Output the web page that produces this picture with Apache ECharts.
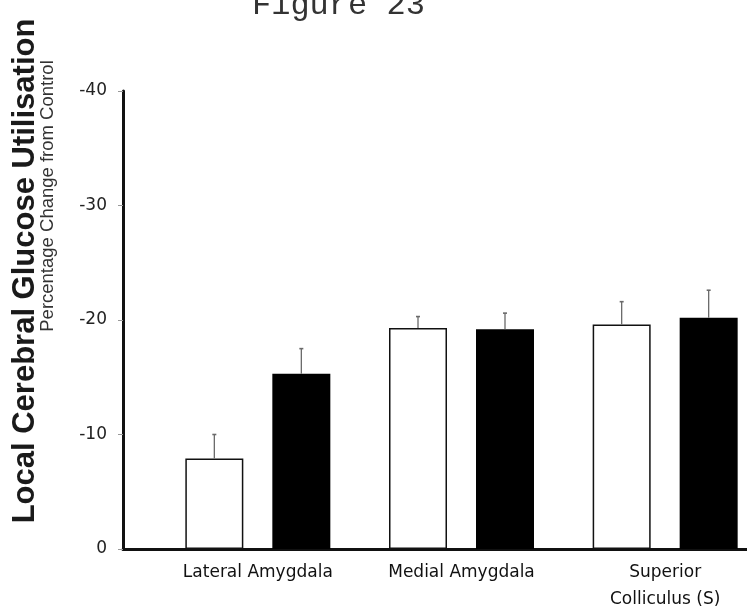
<!DOCTYPE html>
<html><head><meta charset="utf-8">
<script src="https://cdn.jsdelivr.net/npm/echarts@6/dist/echarts.min.js"></script>
<style>html,body{margin:0;padding:0;background:#fff}#c{width:747px;height:612px}</style>
</head><body><div id="c"></div>
<script>
const categories = ['Lateral Amygdala', 'Medial Amygdala', 'Superior\nColliculus (S)'];
const whiteValues = [-7.9, -19.3, -19.6];
const whiteErrors = [2.1, 1.0, 2.0];
const blackValues = [-15.3, -19.2, -20.2];
const blackErrors = [2.2, 1.4, 2.4];
const yMin = -40, yMax = 0, yStep = 10;

const chart = echarts.init(document.getElementById('c'), null, {renderer: 'canvas'});

function errData(vals, errs) {
  return vals.map((v, i) => [i, v, v - errs[i]]);
}
function makeErr(offset) {
  return function (params, api) {
    const base = api.coord([api.value(0), api.value(1)]);
    const top = api.coord([api.value(0), api.value(2)]);
    const x = base[0] + offset;
    return {
      type: 'group',
      children: [
        {type: 'line', shape: {x1: x, y1: base[1], x2: x, y2: top[1]}, style: {stroke: '#6a6a6a', lineWidth: 1.3}},
        {type: 'line', shape: {x1: x - 2, y1: top[1], x2: x + 2, y2: top[1]}, style: {stroke: '#6a6a6a', lineWidth: 1.6}}
      ]
    };
  };
}

const option = {
  backgroundColor: '#ffffff',
  animation: false,
  grid: [
    {left: 123, right: 0, top: 91, bottom: 63, outerBoundsMode: 'none', containLabel: false},
    {left: 156, width: 611, top: 91, bottom: 63, outerBoundsMode: 'none', containLabel: false}
  ],
  xAxis: [
    {gridIndex: 0, type: 'category', data: categories,
     axisLine: {show: true, onZero: false, lineStyle: {color: '#111', width: 3}},
     axisTick: {show: false}, axisLabel: {show: false}, splitLine: {show: false}},
    {gridIndex: 1, type: 'category', data: categories,
     axisLine: {show: false}, axisTick: {show: false}, splitLine: {show: false},
     axisLabel: {show: true, color: '#111', fontSize: 17, fontFamily: 'DejaVu Sans', margin: 10, lineHeight: 27, interval: 0}}
  ],
  yAxis: [
    {gridIndex: 0, type: 'value', min: yMin, max: yMax, interval: yStep, inverse: true,
     axisLine: {show: true, lineStyle: {color: '#111', width: 3}},
     axisTick: {show: true, length: 5, lineStyle: {color: '#999', width: 1}},
     axisLabel: {color: '#222', fontSize: 17, fontFamily: 'DejaVu Sans', margin: 16},
     splitLine: {show: false}},
    {gridIndex: 1, type: 'value', min: yMin, max: yMax, interval: yStep, inverse: true, show: false}
  ],
  series: [
    {type: 'bar', xAxisIndex: 1, yAxisIndex: 1, data: whiteValues, barWidth: 58, barGap: '50%',
     itemStyle: {color: '#ffffff', borderColor: '#111', borderWidth: 1.5}},
    {type: 'bar', xAxisIndex: 1, yAxisIndex: 1, data: blackValues, barWidth: 58, barGap: '50%',
     itemStyle: {color: '#000000'}},
    {type: 'custom', xAxisIndex: 1, yAxisIndex: 1, data: errData(whiteValues, whiteErrors),
     renderItem: makeErr(-43.5), z: 5},
    {type: 'custom', xAxisIndex: 1, yAxisIndex: 1, data: errData(blackValues, blackErrors),
     renderItem: makeErr(43.5), z: 5}
  ],
  graphic: [
    {type: 'text', x: 252, y: 6, style: {text: 'Figure 23', font: '32px "Liberation Mono"', fill: '#333', align: 'left', verticalAlign: 'middle'}},
    {type: 'text', x: 25, y: 271, rotation: Math.PI / 2,
     style: {text: 'Local Cerebral Glucose Utilisation', font: 'bold 31px "Liberation Sans"', fill: '#1a1a1a', align: 'center', verticalAlign: 'middle'}},
    {type: 'text', x: 48, y: 196, rotation: Math.PI / 2,
     style: {text: 'Percentage Change from Control', font: '18.5px "Liberation Sans"', fill: '#333', align: 'center', verticalAlign: 'middle'}}
  ]
};
chart.setOption(option);
</script>
</body></html>
